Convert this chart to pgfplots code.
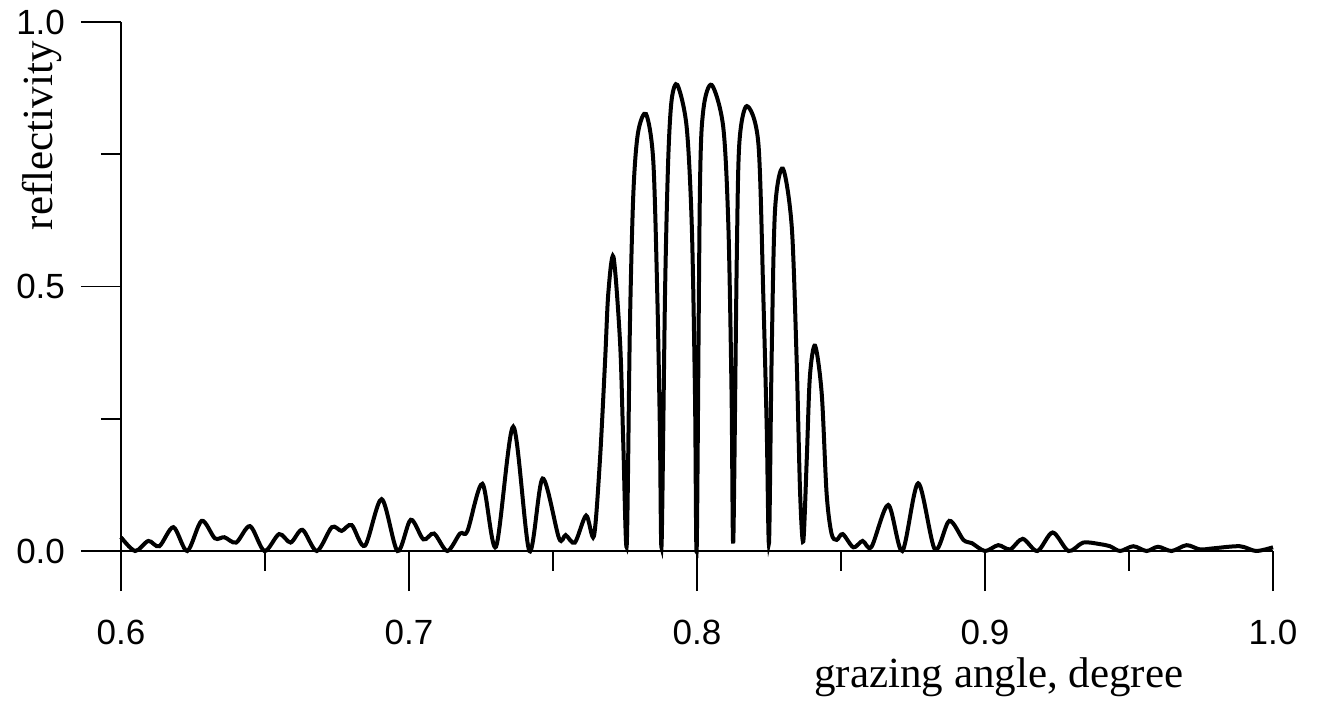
\documentclass[border=0pt]{standalone}
\usepackage{fontspec}
\setmainfont{Liberation Serif}
\newfontfamily\arialfont{Liberation Sans}
\usepackage{pgfplots}
\pgfplotsset{compat=1.18}
\begin{document}
\begin{tikzpicture}
\useasboundingbox (-60.5pt,-77.5pt) rectangle (600.5pt,275.5pt);
\begin{axis}[
  at={(0,0)}, anchor=south west,
  scale only axis, width=576pt, height=264.5pt,
  xmin=0.6, xmax=1.0, ymin=0, ymax=1.0,
  axis x line*=bottom, axis y line*=left,
  axis line style={line width=0.8pt,-},
  xtick={0.6,0.7,0.8,0.9,1.0},
  minor xtick={0.65,0.75,0.85,0.95},
  ytick={0,0.5,1.0},
  minor ytick={0.25,0.75},
  tick align=outside,
  major tick length=20pt, minor tick length=10pt,
  tick style={line width=0.8pt,black},
  /pgf/number format/assume math mode=true,
  ticklabel style={font=\arialfont\fontsize{17.5}{20}\selectfont},
  xticklabel style={yshift=-11pt,/pgf/number format/.cd,fixed,fixed zerofill,precision=1},
  yticklabel style={xshift=-4.5pt,/pgf/number format/.cd,fixed,fixed zerofill,precision=1},
  xlabel={grazing angle, degree},
  ylabel={reflectivity},
  label style={font=\fontsize{21.5}{25}\selectfont},
  xlabel style={at={(axis description cs:0.762,0)}, anchor=base, yshift=-68pt},
  ylabel style={at={(axis description cs:0,0.785)}, anchor=base, yshift=34pt},
  clip=false,
]
\addplot[black, line width=2pt, smooth, tension=0.5] coordinates {
(0.6000,0.026) (0.6049,0.000) (0.6095,0.019) (0.6133,0.009) (0.6182,0.045)
(0.6230,0.000) (0.6280,0.057) (0.6326,0.024) (0.6359,0.026) (0.6400,0.016)
(0.6448,0.047) (0.6498,0.000) (0.6549,0.032) (0.6589,0.016) (0.6630,0.040)
(0.6680,0.000) (0.6732,0.045) (0.6766,0.038) (0.6801,0.049) (0.6847,0.010)
(0.6905,0.098) (0.6960,0.000) (0.7006,0.059) (0.7050,0.022) (0.7087,0.033)
(0.7133,0.000) (0.7177,0.033) (0.7203,0.038) (0.7255,0.127) (0.7302,0.008)
(0.7362,0.235) (0.7418,0.000) (0.7464,0.137) (0.7521,0.024) (0.7544,0.030)
(0.7576,0.016) (0.7615,0.067) (0.7642,0.028) (0.7663,0.172) (0.7681,0.361)
(0.7692,0.487) (0.7710,0.556) (0.7733,0.393) (0.7744,0.204) (0.7756,0.011)
(0.7767,0.424) (0.7779,0.676) (0.7795,0.790) (0.7823,0.826) (0.7848,0.739)
(0.7862,0.487) (0.7871,0.235) (0.7877,0.011) (0.7889,0.487) (0.7900,0.739)
(0.7912,0.853) (0.7932,0.881) (0.7964,0.802) (0.7982,0.613) (0.7993,0.298)
(0.7999,0.005) (0.8010,0.676) (0.8022,0.834) (0.8051,0.881) (0.8091,0.802)
(0.8109,0.613) (0.8120,0.298) (0.8126,0.018) (0.8138,0.550) (0.8147,0.771)
(0.8173,0.841) (0.8213,0.771) (0.8230,0.487) (0.8242,0.235) (0.8250,0.015)
(0.8259,0.361) (0.8271,0.645) (0.8298,0.723) (0.8329,0.613) (0.8346,0.361)
(0.8358,0.110) (0.8369,0.018) (0.8381,0.172) (0.8392,0.330) (0.8410,0.388)
(0.8433,0.298) (0.8450,0.109) (0.8467,0.033) (0.8485,0.021) (0.8506,0.032)
(0.8543,0.007) (0.8575,0.019) (0.8606,0.008) (0.8664,0.087) (0.8713,0.000)
(0.8768,0.128) (0.8826,0.003) (0.8876,0.057) (0.8925,0.021) (0.8954,0.015)
(0.9000,0.000) (0.9046,0.011) (0.9087,0.003) (0.9131,0.023) (0.9182,0.000)
(0.9235,0.035) (0.9290,0.000) (0.9341,0.016) (0.9399,0.013) (0.9434,0.009)
(0.9469,0.000) (0.9515,0.009) (0.9561,0.000) (0.9601,0.008) (0.9648,0.000)
(0.9700,0.011) (0.9746,0.003) (0.9792,0.005) (0.9885,0.009) (0.9941,0.000)
(1.0000,0.007)
};
\end{axis}
\end{tikzpicture}
\end{document}
